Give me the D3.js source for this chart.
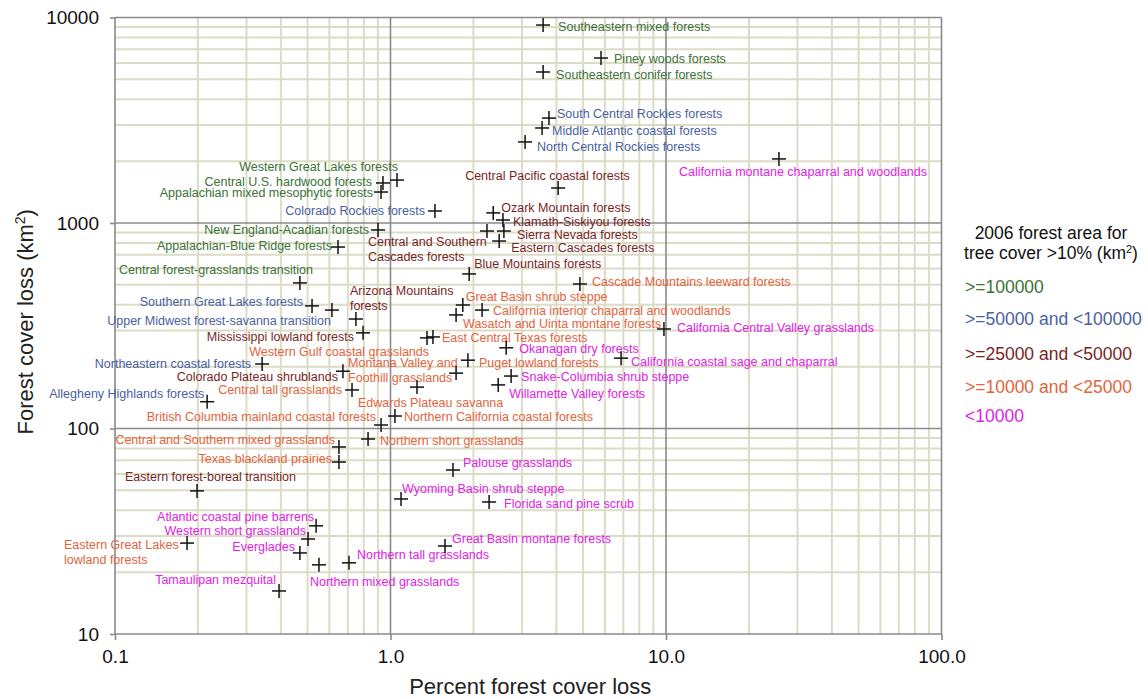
<!DOCTYPE html>
<html>
<head>
<meta charset="utf-8">
<script src="https://cdn.jsdelivr.net/npm/d3@7"></script>
<style>
  body { margin: 0; background: #fff; }
  svg { font-family: "Liberation Sans", Arial, sans-serif; }
</style>
</head>
<body>
<div id="chart"></div>
<script>
// Ecoregion names ("\n" marks a line break in the label)
const regions = [
  "Southeastern mixed forests", "Piney woods forests", "Southeastern conifer forests",
  "South Central Rockies forests", "Middle Atlantic coastal forests", "North Central Rockies forests",
  "California montane chaparral and woodlands", "Central Pacific coastal forests", "Ozark Mountain forests",
  "Klamath-Siskiyou forests", "Sierra Nevada forests", "Central and Southern\nCascades forests",
  "Eastern Cascades forests", "Blue Mountains forests", "Western Great Lakes forests",
  "Central U.S. hardwood forests", "Appalachian mixed mesophytic forests", "Colorado Rockies forests",
  "New England-Acadian forests", "Appalachian-Blue Ridge forests", "Central forest-grasslands transition",
  "Cascade Mountains leeward forests", "Great Basin shrub steppe", "California interior chaparral and woodlands",
  "Wasatch and Uinta montane forests", "California Central Valley grasslands", "Western Gulf coastal grasslands",
  "East Central Texas forests", "Okanagan dry forests", "California coastal sage and chaparral",
  "Puget lowland forests", "Montana Valley and\nFoothill grasslands", "Snake-Columbia shrub steppe",
  "Willamette Valley forests", "Edwards Plateau savanna", "Northern California coastal forests",
  "British Columbia mainland coastal forests", "Northern short grasslands", "Central and Southern mixed grasslands",
  "Texas blackland prairies", "Southern Great Lakes forests", "Upper Midwest forest-savanna transition",
  "Arizona Mountains\nforests", "Mississippi lowland forests", "Northeastern coastal forests",
  "Colorado Plateau shrublands", "Central tall grasslands", "Allegheny Highlands forests",
  "Eastern forest-boreal transition", "Atlantic coastal pine barrens", "Western short grasslands",
  "Eastern Great Lakes\nlowland forests", "Everglades", "Northern mixed grasslands",
  "Northern tall grasslands", "Tamaulipan mezquital", "Palouse grasslands",
  "Wyoming Basin shrub steppe", "Florida sand pine scrub", "Great Basin montane forests"
];

// Percent forest cover loss
const pctLoss = [
  3.58, 5.81, 3.58, 3.76, 3.55, 3.08, 25.7, 4.06, 2.36, 2.56, 2.58, 2.24,
  2.48, 1.93, 1.056, 0.939, 0.924, 1.45, 0.901, 0.645, 0.469, 4.87, 1.83, 2.15,
  1.73, 9.83, 1.357, 1.426, 2.63, 6.87, 1.91, 1.73, 2.74, 2.46, 1.248, 1.038,
  0.924, 0.829, 0.650, 0.650, 0.519, 0.613, 0.749, 0.795, 0.342, 0.672, 0.725, 0.216,
  0.1985, 0.537, 0.502, 0.1826, 0.469, 0.550, 0.707, 0.394, 1.686, 1.092, 2.28, 1.577
];

// Forest cover loss (km2)
const areaLoss = [
  9190, 6350, 5430, 3240, 2900, 2480, 2050, 1480, 1120, 1034, 914, 914,
  817, 565, 1618, 1566, 1415, 1144, 925, 764, 511, 505, 399, 377,
  357, 305, 276, 279, 247, 220, 215, 186, 180, 163, 159, 115,
  104, 88.9, 81.3, 68.7, 395, 377, 341, 292, 206, 190, 154, 135,
  49.7, 33.6, 29.0, 27.7, 24.8, 21.7, 22.2, 16.2, 62.8, 45.4, 43.9, 26.8
];

// 2006 forest area class (index into classLabels)
const areaClass = [
  0, 0, 0, 1, 1, 1, 4, 2, 2, 2, 2, 2,
  2, 2, 0, 0, 0, 1, 0, 0, 0, 3, 3, 3,
  3, 4, 3, 3, 4, 4, 3, 3, 4, 4, 3, 3,
  3, 3, 3, 3, 1, 1, 2, 2, 1, 2, 3, 1,
  2, 4, 4, 3, 4, 4, 4, 4, 4, 4, 4, 4
];

const classLabels = [">=100000", ">=50000 and <100000", ">=25000 and <50000", ">=10000 and <25000", "<10000"];
const classColors = ["#3b7236", "#4a5fa3", "#7a1f1f", "#e2643c", "#e022e6"];

const xTickValues = [0.1, 1, 10, 100];
const xTickLabels = ["0.1", "1.0", "10.0", "100.0"];
const yTickValues = [10, 100, 1000, 10000];

// label placement relative to each cross: [dx, dy, anchor]
const labelPlacement = [
  [15, 2, "start"], [13, 1, "start"], [13, 3, "start"], [8, -4, "start"], [10, 3, "start"], [12, 5, "start"],
  [-100, 13, "start"], [-93, -12, "start"], [8, -5, "start"], [10, 2, "start"], [13, 4, "start"], [-119, 11, "start"],
  [12, 7, "start"], [5, -10, "start"], [1, -13, "end"], [-11, -1, "end"], [-8, 1, "end"], [-10, 0, "end"],
  [-9, 0, "end"], [-6, -1, "end"], [13, -13, "end"], [12, -2, "start"], [3, -8, "start"], [11, 1, "start"],
  [7, 9, "start"], [13, -1, "start"], [2, 14, "end"], [9, 1, "start"], [13, 1, "start"], [10, 3, "start"],
  [11, 2, "start"], [-108, -10, "start"], [10, 1, "start"], [11, 9, "start"], [-59, 16, "start"], [9, 1, "start"],
  [-5, -8, "end"], [12, 2, "start"], [-4, -7, "end"], [-7, -3, "end"], [-9, -4, "end"], [-1, 11, "end"],
  [-6, -28, "start"], [-9, 4, "end"], [-11, 0, "end"], [-5, 5, "end"], [-10, 0, "end"], [-3, -8, "end"],
  [-72, -14, "start"], [-2, -9, "end"], [-2, -8, "end"], [-123, 2, "start"], [-5, -6, "end"], [-9, 17, "start"],
  [8, -8, "start"], [-3, -11, "end"], [10, -7, "start"], [1, -10, "start"], [15, 2, "start"], [7, -7, "start"]
];

const WIDTH = 1148, HEIGHT = 699;
const PLOT = { left: 115, right: 941.5, top: 17.5, bottom: 634 };

const svg = d3.select("#chart").append("svg")
  .attr("width", WIDTH)
  .attr("height", HEIGHT);

const x = d3.scaleLog().domain([0.1, 100]).range([PLOT.left, PLOT.right]);
const y = d3.scaleLog().domain([10, 10000]).range([PLOT.bottom, PLOT.top]);

const isMajor = v => Math.abs(Math.log10(v) - Math.round(Math.log10(v))) < 1e-9;

// minor grid
const grid = svg.append("g");
grid.selectAll("line.vminor")
  .data(x.ticks().filter(v => !isMajor(v)))
  .join("line")
  .attr("x1", d => x(d)).attr("x2", d => x(d))
  .attr("y1", PLOT.top).attr("y2", PLOT.bottom)
  .attr("stroke", "#dcdcc6").attr("stroke-width", 2);
grid.selectAll("line.hminor")
  .data(y.ticks().filter(v => !isMajor(v)))
  .join("line")
  .attr("x1", PLOT.left).attr("x2", PLOT.right)
  .attr("y1", d => y(d)).attr("y2", d => y(d))
  .attr("stroke", "#dcdcc6").attr("stroke-width", 2);

// major grid (and frame)
grid.selectAll("line.vmajor")
  .data(xTickValues)
  .join("line")
  .attr("x1", d => x(d)).attr("x2", d => x(d))
  .attr("y1", PLOT.top).attr("y2", PLOT.bottom)
  .attr("stroke", "#8a8a8a").attr("stroke-width", 1.6);
grid.selectAll("line.hmajor")
  .data(yTickValues)
  .join("line")
  .attr("x1", PLOT.left).attr("x2", PLOT.right)
  .attr("y1", d => y(d)).attr("y2", d => y(d))
  .attr("stroke", "#8a8a8a").attr("stroke-width", 1.6);

// axes
const xAxis = svg.append("g")
  .attr("transform", `translate(0,${PLOT.bottom})`)
  .call(d3.axisBottom(x).tickValues(xTickValues)
    .tickFormat((d, i) => xTickLabels[i]).tickSize(6).tickPadding(10));
const yAxis = svg.append("g")
  .attr("transform", `translate(${PLOT.left},0)`)
  .call(d3.axisLeft(y).tickValues(yTickValues)
    .tickFormat(d => String(d)).tickSize(5).tickPadding(11));
[xAxis, yAxis].forEach(a => {
  a.select(".domain").remove();
  a.selectAll(".tick line").attr("stroke", "#8a8a8a").attr("stroke-width", 1.6);
  a.selectAll(".tick text")
    .attr("fill", "#111")
    .style("font-size", "19px")
    .style("font-family", "'Liberation Sans', Arial, sans-serif");
});

// axis titles
svg.append("text")
  .attr("x", (PLOT.left + PLOT.right) / 2 + 2)
  .attr("y", 694)
  .attr("text-anchor", "middle")
  .style("font-size", "22px")
  .attr("fill", "#222")
  .text("Percent forest cover loss");

const yTitle = svg.append("text")
  .attr("transform", `translate(33, ${(PLOT.top + PLOT.bottom) / 2 - 4}) rotate(-90)`)
  .attr("text-anchor", "middle")
  .style("font-size", "22px")
  .attr("fill", "#222");
yTitle.append("tspan").text("Forest cover loss (km");
yTitle.append("tspan").attr("baseline-shift", "super").style("font-size", "14px").text("2");
yTitle.append("tspan").text(")");

// point labels
const points = regions.map((name, i) => ({
  name, pct: pctLoss[i], area: areaLoss[i], cls: areaClass[i], place: labelPlacement[i]
}));

const labels = svg.append("g")
  .style("font-size", "12.5px")
  .selectAll("text")
  .data(points)
  .join("text")
  .attr("x", d => x(d.pct) + d.place[0])
  .attr("y", d => y(d.area) + d.place[1])
  .attr("text-anchor", d => d.place[2])
  .attr("fill", d => classColors[d.cls]);
labels.selectAll("tspan")
  .data(d => d.name.split("\n").map((line, j) => ({ line, j, d })))
  .join("tspan")
  .attr("x", t => x(t.d.pct) + t.d.place[0])
  .attr("dy", t => t.j === 0 ? "0.35em" : "1.2em")
  .text(t => t.line);

// crosses
const cross = svg.append("g")
  .selectAll("g")
  .data(points)
  .join("g")
  .attr("transform", d => `translate(${x(d.pct)},${y(d.area)})`);
cross.append("line").attr("x1", -7).attr("x2", 7).attr("y1", 0).attr("y2", 0);
cross.append("line").attr("x1", 0).attr("x2", 0).attr("y1", -7).attr("y2", 7);
cross.selectAll("line").attr("stroke", "#111").attr("stroke-width", 1.5);

// legend
const legend = svg.append("g");
legend.append("text")
  .attr("x", 1051).attr("y", 239)
  .attr("text-anchor", "middle")
  .style("font-size", "17.5px").attr("fill", "#111")
  .text("2006 forest area for");
const lt = legend.append("text")
  .attr("x", 1051).attr("y", 259)
  .attr("text-anchor", "middle")
  .style("font-size", "17.5px").attr("fill", "#111");
lt.append("tspan").text("tree cover >10% (km");
lt.append("tspan").attr("baseline-shift", "super").style("font-size", "11px").text("2");
lt.append("tspan").text(")");

const legendY = [287, 319, 354, 387, 416];
legend.selectAll("text.entry")
  .data(classLabels)
  .join("text")
  .attr("class", "entry")
  .attr("x", 965)
  .attr("y", (d, i) => legendY[i])
  .attr("dy", "0.35em")
  .style("font-size", "17.5px")
  .attr("fill", (d, i) => classColors[i])
  .text(d => d);
</script>
</body>
</html>
